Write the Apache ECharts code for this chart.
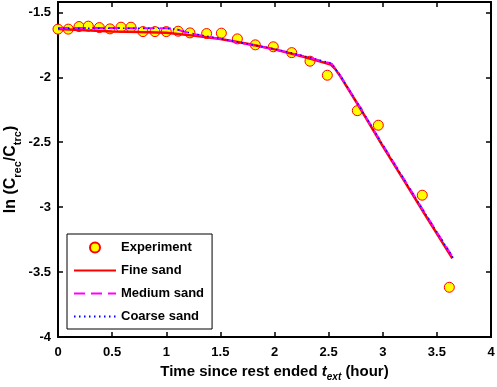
<!DOCTYPE html>
<html>
<head>
<meta charset="utf-8">
<script src="https://cdn.jsdelivr.net/npm/echarts@6/dist/echarts.min.js"></script>
<style>
  html, body { margin: 0; padding: 0; background: #fff; }
  #chart { width: 497px; height: 387px; }
</style>
</head>
<body>
<div id="chart"></div>
<script>
// experiment points
const expT = [0, 0.095, 0.194, 0.28, 0.382, 0.48, 0.582, 0.674, 0.785, 0.896, 1.0, 1.11, 1.219,
  1.373, 1.509, 1.657, 1.823, 1.989, 2.159, 2.328, 2.488, 2.765, 2.959, 3.365, 3.615]
const expV = [-1.629, -1.629, -1.609, -1.606, -1.617, -1.627, -1.614, -1.614, -1.648, -1.648, -1.648,
  -1.645, -1.658, -1.663, -1.660, -1.704, -1.750, -1.765, -1.810, -1.876, -1.984, -2.257, -2.369, -2.908, -3.617]

// model curves
const fineT = [0, 0.25, 0.5, 0.75, 1.0, 1.25, 1.5, 1.75, 2.0, 2.25, 2.4, 2.52, 2.56, 2.61, 2.8, 3.0, 3.2, 3.4, 3.643]
const fineV = [-1.627, -1.638, -1.647, -1.652, -1.656, -1.679, -1.705, -1.741, -1.785, -1.838, -1.872, -1.902,
  -1.935, -1.995, -2.25, -2.53, -2.80, -3.07, -3.394]
const mediumT = [0, 0.5, 1.0, 1.08, 1.15, 1.25, 1.5, 1.75, 2.0, 2.25, 2.5, 2.53, 2.56, 2.61, 2.8, 3.0, 3.2, 3.4, 3.65]
const mediumV = [-1.621, -1.621, -1.622, -1.626, -1.645, -1.666, -1.704, -1.745, -1.783, -1.833, -1.888, -1.897,
  -1.93, -1.99, -2.245, -2.52, -2.79, -3.06, -3.39]
const coarseT = [0, 0.5, 1.0, 1.1, 1.25, 1.5, 1.75, 2.0, 2.25, 2.5, 2.53, 2.56, 2.61, 2.8, 3.0, 3.2, 3.4, 3.65]
const coarseV = [-1.622, -1.622, -1.623, -1.632, -1.665, -1.702, -1.743, -1.781, -1.831, -1.886, -1.896,
  -1.93, -1.99, -2.245, -2.52, -2.79, -3.06, -3.39]

const xTicks = { min: 0, max: 4, interval: 0.5 }
const yTicks = { min: -4, max: -1.42, interval: 0.5 }

const FONT = '"Liberation Sans", Arial, Helvetica, sans-serif'
const pair = (xs, ys) => xs.map((x, i) => [x, ys[i]])

function richText(size, subSize, drop) {
  const base = { fontFamily: FONT, fontWeight: 'bold', color: '#000', lineHeight: 18 }
  return {
    b: { ...base, fontSize: size },
    bi: { ...base, fontSize: size, fontStyle: 'italic' },
    s: { ...base, fontSize: subSize, padding: [drop, 0, 0, 0] },
    si: { ...base, fontSize: subSize, fontStyle: 'italic', padding: [drop, 0, 0, 0] }
  }
}

const axisLine = { onZero: false, lineStyle: { color: '#000', width: 2 } }
const axisTick = { inside: true, length: 5, lineStyle: { color: '#000', width: 1.5 } }
const axisLabel = { color: '#000', fontFamily: FONT, fontSize: 13, fontWeight: 'bold' }

const chart = echarts.init(document.getElementById('chart'), null, { renderer: 'canvas' })
chart.setOption({
  animation: false,
  backgroundColor: '#fff',
  grid: { left: 58, right: 6, top: 2, bottom: 50, outerBoundsMode: 'none', containLabel: false },
  xAxis: [{
    type: 'value', position: 'bottom', ...xTicks,
    axisLine, axisTick, splitLine: { show: false },
    axisLabel: { ...axisLabel, margin: 9 },
    name: '{b|Time since rest ended }{bi|t}{si|ext}{b| (hour)}',
    nameLocation: 'middle', nameGap: 26, nameMoveOverlap: false,
    nameTextStyle: { rich: richText(15, 10, 11) }
  }, {
    type: 'value', position: 'top', ...xTicks,
    axisLine, axisTick, splitLine: { show: false }, axisLabel: { show: false }
  }],
  yAxis: [{
    type: 'value', position: 'left', ...yTicks,
    axisLine, axisTick, splitLine: { show: false },
    axisLabel: { ...axisLabel, margin: 7, showMaxLabel: false },
    name: '{b|ln (C}{s|rec}{b|/C}{s|trc}{b|)}',
    nameLocation: 'middle', nameGap: 38, nameRotate: 90, nameMoveOverlap: false,
    nameTextStyle: { rich: richText(16, 11, 13) }
  }, {
    type: 'value', position: 'right', ...yTicks,
    axisLine, axisTick, splitLine: { show: false }, axisLabel: { show: false }
  }],
  legend: {
    orient: 'vertical', left: 67, top: 234,
    padding: [6, 8, 5, 6], itemGap: 8, itemWidth: 42, itemHeight: 10,
    backgroundColor: '#fff', borderColor: '#000', borderWidth: 1, borderRadius: 0,
    textStyle: { color: '#000', fontFamily: FONT, fontSize: 13, fontWeight: 'bold', lineHeight: 15 },
    data: [
      { name: 'Experiment' },
      { name: 'Fine sand', itemStyle: { opacity: 0 } },
      { name: 'Medium sand', itemStyle: { opacity: 0 } },
      { name: 'Coarse sand', itemStyle: { opacity: 0 } }
    ]
  },
  series: [
    {
      name: 'Experiment', type: 'scatter', data: pair(expT, expV),
      symbol: 'circle', symbolSize: 10,
      itemStyle: { color: '#ffff00', borderColor: '#ff0000', borderWidth: 1, opacity: 1 }
    },
    {
      name: 'Fine sand', type: 'line', data: pair(fineT, fineV),
      symbol: 'none', showSymbol: false,
      itemStyle: { color: '#ff0000' },
      lineStyle: { color: '#ff0000', width: 2.5 }
    },
    {
      name: 'Medium sand', type: 'line', data: pair(mediumT, mediumV),
      symbol: 'none', showSymbol: false,
      itemStyle: { color: '#ff00ff' },
      lineStyle: { color: '#ff00ff', width: 2, type: [11, 6] }
    },
    {
      name: 'Coarse sand', type: 'line', data: pair(coarseT, coarseV),
      symbol: 'none', showSymbol: false,
      itemStyle: { color: '#0000ff' },
      lineStyle: { color: '#0000ff', width: 1.5, type: [1.5, 3.5] }
    }
  ]
})
</script>
</body>
</html>
